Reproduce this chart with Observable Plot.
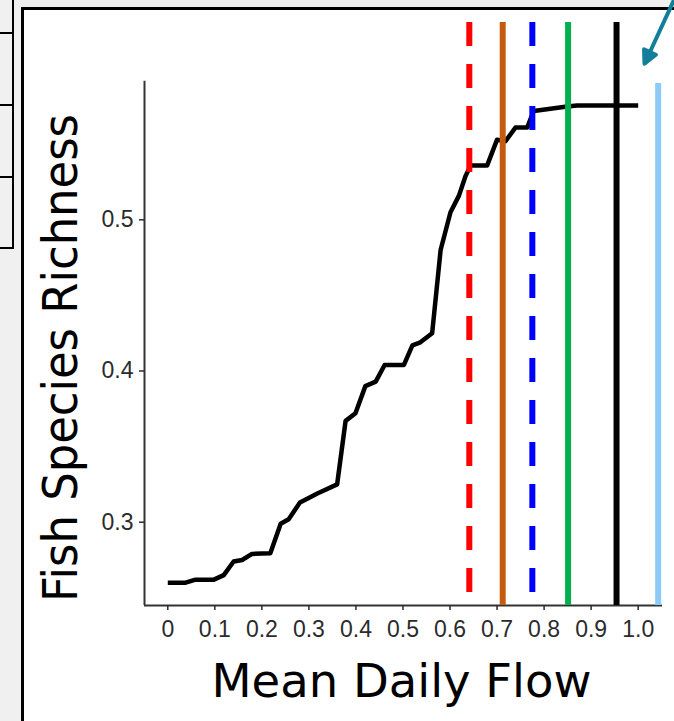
<!DOCTYPE html>
<html>
<head>
<meta charset="utf-8">
<script src="https://cdn.jsdelivr.net/npm/d3@7"></script>
<script src="https://cdn.jsdelivr.net/npm/@observablehq/plot@0.6"></script>
<style>
  html, body { margin: 0; padding: 0; background: #f0f0f0; }
  #wrap { position: relative; width: 674px; height: 721px; overflow: hidden; background: #f0f0f0; }
  #frame { position: absolute; left: 21px; top: 7px; width: 700px; height: 800px; background: #fff; border: 3px solid #000; box-sizing: border-box; }
  .tl { position: absolute; background: #000; }
  #chart { position: absolute; left: 0; top: 0; }
</style>
</head>
<body>
<div id="wrap">
  <div id="frame"></div>
  <div class="tl" style="left:12px;top:0;width:2px;height:249px"></div>
  <div class="tl" style="left:0;top:32px;width:14px;height:2px"></div>
  <div class="tl" style="left:0;top:104px;width:14px;height:2px"></div>
  <div class="tl" style="left:0;top:176px;width:14px;height:2px"></div>
  <div class="tl" style="left:0;top:247px;width:14px;height:2px"></div>
  <div id="chart"></div>
</div>
<script>
// ---- data ----
const flow = [0, 0.038, 0.059, 0.098, 0.119, 0.140, 0.158, 0.179, 0.218, 0.240, 0.257, 0.281, 0.318, 0.360, 0.378, 0.399, 0.420, 0.442, 0.461, 0.502, 0.520, 0.537, 0.562, 0.580, 0.601, 0.619, 0.633, 0.644, 0.679, 0.700, 0.718, 0.739, 0.764, 0.778, 0.849, 0.870, 1.0];
const richness = [0.260, 0.260, 0.262, 0.262, 0.265, 0.274, 0.275, 0.279, 0.2795, 0.299, 0.302, 0.313, 0.319, 0.325, 0.367, 0.372, 0.390, 0.393, 0.404, 0.404, 0.417, 0.419, 0.425, 0.480, 0.505, 0.516, 0.529, 0.536, 0.536, 0.553, 0.552, 0.561, 0.561, 0.572, 0.575, 0.5756, 0.5756];

const refFlow = [0.641, 0.712, 0.775, 0.851, 0.954, 1.0425];
const refTop = [0.6305, 0.6305, 0.6305, 0.6305, 0.6305, 0.5901];
const refColor = ["#FF0000", "#C55A11", "#0000FF", "#00B050", "#000000", "#8CCBF7"];
const refDashed = [true, false, true, false, false, false];

const xTicks = [0, 0.1, 0.2, 0.3, 0.4, 0.5, 0.6, 0.7, 0.8, 0.9, 1.0];
const xTickLabels = ["0", "0.1", "0.2", "0.3", "0.4", "0.5", "0.6", "0.7", "0.8", "0.9", "1.0"];
const yTicks = [0.3, 0.4, 0.5];
const yTickLabels = ["0.3", "0.4", "0.5"];

const xDomain = [-0.0495, 1.0517];
const yDomain = [0.2449, 0.6305];
const yAxisTop = 0.5917;

const arrowTip = [{x: 1.0134, y: 0.6032}];

const xTitle = "Mean Daily Flow";
const yTitle = "Fish Species Richness";

// ---- build ----
const curve = flow.map((x, i) => ({x, y: richness[i]}));
const refs = refFlow.map((x, i) => ({x, top: refTop[i], color: refColor[i], dashed: refDashed[i]}));

const arrowShape = {
  draw(context, l) {
    const hl = 13, hw = 6.5;
    context.moveTo(0, 0);
    context.lineTo(0, -l + hl);
    context.moveTo(0, -l);
    context.lineTo(-hw, -l + hl);
    context.lineTo(hw, -l + hl);
    context.closePath();
  }
};

const chart = Plot.plot({
  width: 674,
  height: 721,
  marginLeft: 144,
  marginRight: 12,
  marginTop: 22,
  marginBottom: 116,
  x: {domain: xDomain},
  y: {domain: yDomain},
  style: {background: "transparent", fontFamily: "Liberation Sans", color: "#2b2b2b", overflow: "visible"},
  marks: [
    Plot.ruleY([yDomain[0]], {x1: xDomain[0], x2: xDomain[1], stroke: "#333", strokeWidth: 2}),
    Plot.ruleX([xDomain[0]], {y1: yDomain[0], y2: yAxisTop, stroke: "#333", strokeWidth: 2}),
    Plot.axisX({ticks: xTicks, tickFormat: d => xTickLabels[xTicks.indexOf(d)], tickSize: 5, tickPadding: 10, fontSize: 23, strokeWidth: 1.5, label: null}),
    Plot.axisY({ticks: yTicks, tickFormat: d => yTickLabels[yTicks.indexOf(d)], tickSize: 5, tickPadding: 6, fontSize: 23, strokeWidth: 1.5, label: null}),
    Plot.line(curve, {x: "x", y: "y", stroke: "#000", strokeWidth: 4.5, strokeLinejoin: "round", strokeLinecap: "butt"}),
    Plot.ruleX(refs.filter(d => !d.dashed), {x: "x", y1: "top", y2: yDomain[0], stroke: "color", strokeWidth: 6}),
    Plot.ruleX(refs.filter(d => d.dashed), {x: "x", y1: "top", y2: yDomain[0], stroke: "color", strokeWidth: 6, strokeDasharray: "24,18"}),
    Plot.vector(arrowTip, {x: "x", y: "y", length: 80, rotate: 204.8, anchor: "end", shape: arrowShape, stroke: "#127E99", fill: "#127E99", strokeWidth: 4, strokeLinejoin: "round"}),
    Plot.text([xTitle], {frameAnchor: "bottom", text: d => d, lineAnchor: "top", dy: 58, dx: -2, fontSize: 47, fill: "#000", fontFamily: "DejaVu Sans"}),
    Plot.text([yTitle], {frameAnchor: "left", text: d => d, rotate: -90, textAnchor: "middle", lineAnchor: "middle", dx: -83, dy: 44, fontSize: 48, fill: "#000", fontFamily: "DejaVu Sans"})
  ]
});

document.getElementById("chart").appendChild(chart);

// fit title lengths to the reference
chart.querySelectorAll("text").forEach(t => {
  if (t.textContent === xTitle) { t.setAttribute("textLength", 380); t.setAttribute("lengthAdjust", "spacingAndGlyphs"); }
  if (t.textContent === yTitle) { t.setAttribute("textLength", 488); t.setAttribute("lengthAdjust", "spacingAndGlyphs"); }
});
</script>
</body>
</html>
